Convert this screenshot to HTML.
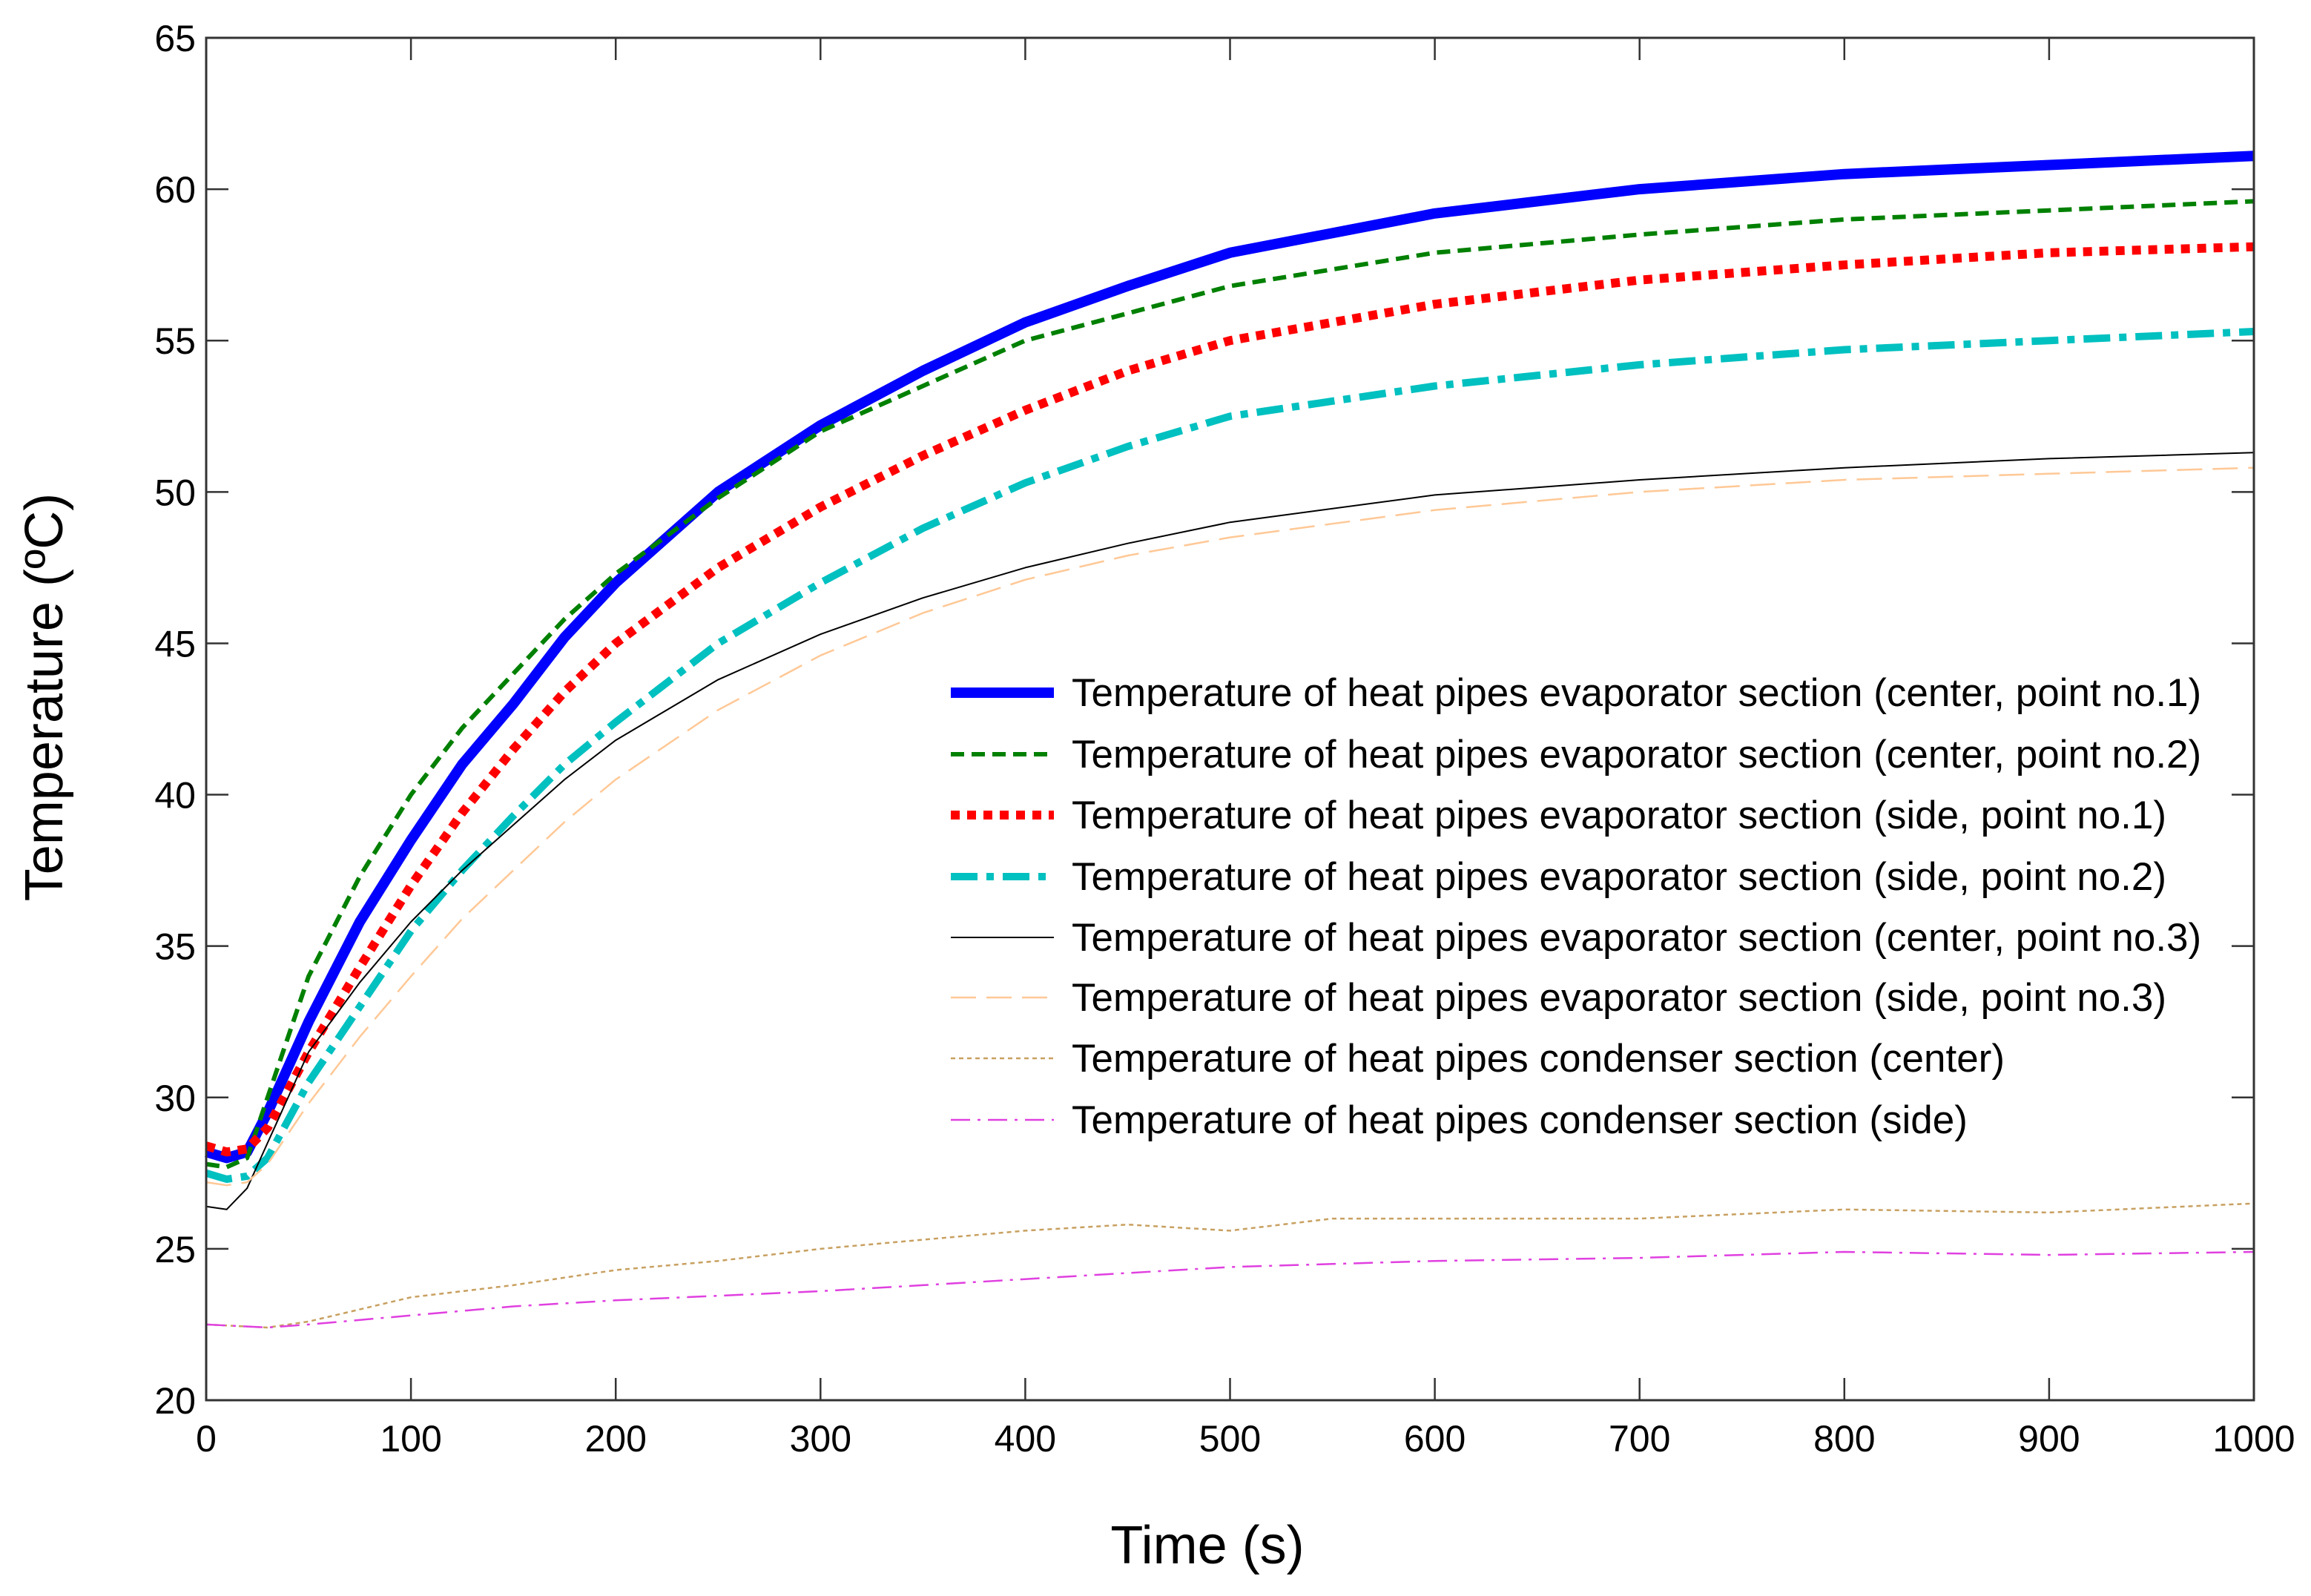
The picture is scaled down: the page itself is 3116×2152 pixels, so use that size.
<!DOCTYPE html>
<html><head><meta charset="utf-8"><style>
html,body{margin:0;padding:0;background:#fff}
svg{display:block;font-family:"Liberation Sans",sans-serif}
</style></head><body>
<svg id="chart" width="3116" height="2152" viewBox="0 0 3116 2152" xmlns="http://www.w3.org/2000/svg">
<g id="grid"></g><g id="series"></g><g id="axes"></g><g id="legend"></g>
</svg>
<script>
const times=[0,10,20,30,50,75,100,125,150,175,200,250,300,350,400,450,500,600,700,800,900,1000];
const blueC1=[28.2,28.0,28.2,29.5,32.5,35.8,38.5,41,43,45.2,47,50,52.2,54,55.6,56.8,57.9,59.2,60,60.5,60.8,61.1];
const greenC2=[27.8,27.7,28,30,34,37.3,40,42.2,44,45.8,47.3,49.8,52,53.5,55,55.9,56.8,57.9,58.5,59,59.3,59.6];
const redS1=[28.4,28.2,28.3,29,31.5,34.3,37,39.4,41.5,43.4,45,47.5,49.5,51.2,52.7,54,55,56.2,57,57.5,57.9,58.1];
const cyanS2=[27.5,27.3,27.4,28,30.5,33,35.5,37.5,39.3,41,42.4,45,47,48.8,50.3,51.5,52.5,53.5,54.2,54.7,55,55.3];
const blackC3=[26.4,26.3,27,28.5,31.5,33.8,35.8,37.5,39,40.5,41.8,43.8,45.3,46.5,47.5,48.3,49,49.9,50.4,50.8,51.1,51.3];
const peachS3=[27.2,27.1,27.2,27.8,29.8,32,34,35.9,37.5,39.1,40.5,42.8,44.6,46,47.1,47.9,48.5,49.4,50,50.4,50.6,50.8];
const condTimes=[0,30,50,100,150,200,250,300,350,400,450,500,550,600,700,800,900,1000];
const condCenter=[22.5,22.4,22.6,23.4,23.8,24.3,24.6,25,25.3,25.6,25.8,25.6,26,26,26,26.3,26.2,26.5];
const condSide=[22.5,22.4,22.5,22.8,23.1,23.3,23.45,23.6,23.8,24,24.2,24.4,24.5,24.6,24.7,24.9,24.8,24.9];
const xTicks=[0,100,200,300,400,500,600,700,800,900,1000];
const yTicks=[20,25,30,35,40,45,50,55,60,65];
const legendLabels=["Temperature of heat pipes evaporator section (center, point no.1)","Temperature of heat pipes evaporator section (center, point no.2)","Temperature of heat pipes evaporator section (side, point no.1)","Temperature of heat pipes evaporator section (side, point no.2)","Temperature of heat pipes evaporator section (center, point no.3)","Temperature of heat pipes evaporator section (side, point no.3)","Temperature of heat pipes condenser section (center)","Temperature of heat pipes condenser section (side)"];

const L=278,R=3039,T=51,B=1888;
const X=v=>L+(v-0)/(1000-0)*(R-L);
const Y=v=>B-(v-20)/(65-20)*(B-T);
const NS='http://www.w3.org/2000/svg';
function mk(tag,attrs,parent){const e=document.createElementNS(NS,tag);for(const k in attrs)e.setAttribute(k,attrs[k]);parent.appendChild(e);return e;}
const sG=document.getElementById('series'),aG=document.getElementById('axes'),lG=document.getElementById('legend');

const styles=[
 {name:'series-center-point-1',xs:times,ys:blueC1,c:'#0000ff',w:14,d:''},
 {name:'series-center-point-2',xs:times,ys:greenC2,c:'#008000',w:6,d:'18 10'},
 {name:'series-side-point-1',xs:times,ys:redS1,c:'#ff0000',w:12,d:'12 10'},
 {name:'series-side-point-2',xs:times,ys:cyanS2,c:'#00c0c0',w:10,d:'36 12 10 12'},
 {name:'series-center-point-3',xs:times,ys:blackC3,c:'#000000',w:2,d:''},
 {name:'series-side-point-3',xs:times,ys:peachS3,c:'#ffc896',w:2.5,d:'34 14'},
 {name:'series-condenser-center',xs:condTimes,ys:condCenter,c:'#c8a060',w:2.5,d:'6 5'},
 {name:'series-condenser-side',xs:condTimes,ys:condSide,c:'#e040e0',w:2.5,d:'26 10 4 10'}
];
styles.forEach(s=>{
 const pts=s.xs.map((t,i)=>X(t).toFixed(1)+','+Y(s.ys[i]).toFixed(1)).join(' ');
 const p=mk('polyline',{points:pts,fill:'none',stroke:s.c,'stroke-width':s.w,'stroke-dasharray':s.d,'stroke-linejoin':'round'},sG);
 
 
});

const fr=mk('rect',{x:L,y:T,width:R-L,height:B-T,fill:'none',stroke:'#333','stroke-width':3},aG);


xTicks.forEach(v=>{
 const x=X(v);
 const t1=mk('line',{x1:x,y1:B,x2:x,y2:B-30,stroke:'#333','stroke-width':2.5},aG);
 
 
 const t2=mk('line',{x1:x,y1:T,x2:x,y2:T+30,stroke:'#333','stroke-width':2.5},aG);
 
 
 const tx=mk('text',{x:x,y:1957,'font-size':50,'text-anchor':'middle',fill:'#000'},aG);
 tx.textContent=v;
 
 
});
yTicks.forEach(v=>{
 const y=Y(v);
 const t1=mk('line',{x1:L,y1:y,x2:L+30,y2:y,stroke:'#333','stroke-width':2.5},aG);
 
 
 const t2=mk('line',{x1:R,y1:y,x2:R-30,y2:y,stroke:'#333','stroke-width':2.5},aG);
 
 
 const tx=mk('text',{x:264,y:y+18,'font-size':50,'text-anchor':'end',fill:'#000'},aG);
 tx.textContent=v;
 
 
});
const xt=mk('text',{x:1628,y:2108,'font-size':72,'text-anchor':'middle',fill:'#000'},aG);
xt.textContent='Time (s)';


const yt=mk('text',{x:0,y:0,'font-size':72,'text-anchor':'middle',fill:'#000',transform:'translate(84,940) rotate(-90)'},aG);
yt.textContent='Temperature (\u00BAC)';



const rowY=[934,1017,1099,1182,1264,1345,1427,1510];
styles.forEach((s,i)=>{
 const y=rowY[i];
 const ln=mk('line',{x1:1282,y1:y,x2:1421,y2:y,stroke:s.c,'stroke-width':s.w,'stroke-dasharray':s.d},lG);
 
 
 const tx=mk('text',{x:1445,y:y+18,'font-size':53,fill:'#000'},lG);
 tx.textContent=legendLabels[i];
 
 
});
</script>
</body></html>
